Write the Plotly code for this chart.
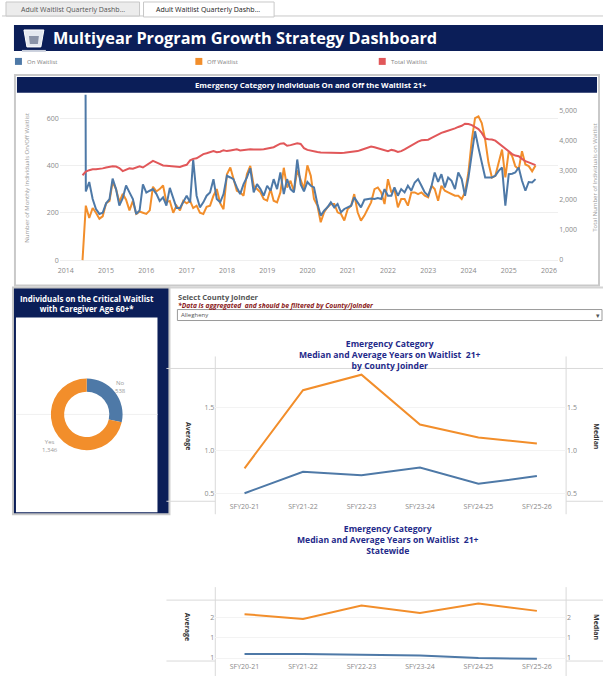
import pandas as pd
import plotly.graph_objects as go

W, H = 603, 677

# monthly series, Jun 2014 .. Sep 2025
months = pd.date_range("2014-06-01", "2025-09-01", freq="MS")

on_waitlist = [
    6000, 290, 330, 258, 216, 195, 200,
    240, 258, 344, 300, 230, 262, 315, 286, 258, 195, 210, 320,
    285, 293, 300, 280, 250, 265, 230, 305, 260, 220, 220, 245,
    272, 244, 425, 272, 223, 244, 272, 286, 342, 258, 244, 279,
    356, 349, 342, 307, 279, 321, 349, 388, 286, 321, 300, 272,
    314, 293, 342, 300, 370, 279, 342, 300, 286, 425, 320, 290,
    330, 314, 307, 237, 188, 209, 223, 244, 223, 237, 202, 216,
    223, 230, 265, 244, 223, 255, 258, 260, 258, 262, 258, 300,
    272, 272, 307, 272, 300, 286, 314, 293, 328, 342, 314, 286,
    272, 314, 370, 330, 363, 307, 349, 335, 300, 370, 342, 272,
    349, 440, 544, 474, 411, 349, 349, 349, 356, 377, 391, 230,
    363, 365, 370, 391, 335, 293, 330, 328, 342,
]

off_waitlist = [
    0, 230, 178, 220, 200, 175, 185,
    240, 250, 330, 300, 245, 280, 255, 210, 250, 195, 205, 200,
    195, 210, 310, 290, 300, 315, 245, 250, 200, 230, 210, 250,
    240, 250, 220, 230, 200, 195, 225, 230, 272, 300, 240, 215,
    363, 391, 342, 293, 286, 272, 363, 398, 314, 300, 286, 258,
    251, 300, 251, 244, 286, 390, 307, 335, 290, 380, 335, 300,
    400, 356, 258, 230, 160, 202, 223, 237, 237, 202, 195, 167,
    216, 230, 279, 202, 167, 188, 216, 244, 300, 307, 286, 237,
    342, 286, 300, 223, 258, 258, 230, 286, 286, 279, 286, 272,
    265, 314, 300, 251, 314, 293, 286, 279, 272, 272, 258, 286,
    370, 509, 600, 607, 579, 509, 411, 349, 356, 411, 467, 349,
    460, 439, 397, 384, 460, 404, 397, 375, 400,
]

total_waitlist = [
    2830, 2950, 3000, 3030, 3030, 3040, 3060,
    3090, 3110, 3130, 3120, 3070, 2970, 3020, 3060, 3050, 3080, 3130, 3090,
    3170, 3250, 3310, 3260, 3200, 3160, 3150, 3140, 3135, 3120, 3110, 3150,
    3180, 3330, 3380, 3400, 3480, 3540, 3570, 3600, 3640, 3600, 3620, 3670,
    3640, 3660, 3690, 3700, 3660, 3680, 3700, 3700, 3690, 3680, 3690, 3700,
    3720, 3740, 3770, 3830, 3890, 3900, 3820, 3840, 3870, 3900, 3880, 3740,
    3680, 3650, 3620, 3610, 3590, 3585, 3600, 3590, 3570, 3560, 3575, 3585,
    3600, 3610, 3615, 3640, 3675, 3720, 3765, 3790, 3770, 3740, 3710, 3690,
    3640, 3680, 3660, 3610, 3640, 3700, 3770, 3830, 3900, 3960, 4000, 4020,
    4020, 4080, 4140, 4200, 4250, 4290, 4320, 4350, 4400, 4450, 4490, 4560,
    4550, 4510, 4450, 4380, 4250, 4060, 4040, 4030, 3990, 3900, 3800, 3720,
    3610, 3540, 3490, 3470, 3380, 3300, 3260, 3220, 3170,
]

caregiver_labels = ["No", "Yes"]
caregiver_values = [538, 1346]

sfy = ["SFY20-21", "SFY21-22", "SFY22-23", "SFY23-24", "SFY24-25", "SFY25-26"]
county_average = [0.79, 1.70, 1.88, 1.30, 1.15, 1.08]
county_median = [0.50, 0.75, 0.71, 0.80, 0.61, 0.70]
state_average = [1.58, 1.46, 1.79, 1.61, 1.84, 1.66]
state_median = [0.60, 0.60, 0.58, 0.56, 0.50, 0.48]

BLUE, ORANGE, RED = "#4e79a7", "#f28e2b", "#e15759"
NAVY = "#0b1e58"
TITLE_BLUE = "#1f2a8a"
FONT = "Open Sans"


def px(x):
    return x / W


def py(y):
    return 1 - y / H


fig = go.Figure()

# top chart
fig.add_trace(go.Scatter(x=months, y=off_waitlist, mode="lines", line=dict(color=ORANGE, width=2),
                         xaxis="x", yaxis="y"))
fig.add_trace(go.Scatter(x=months, y=on_waitlist, mode="lines", line=dict(color=BLUE, width=2),
                         xaxis="x", yaxis="y"))
fig.add_trace(go.Scatter(x=months, y=total_waitlist, mode="lines", line=dict(color=RED, width=2),
                         xaxis="x", yaxis="y2"))

# donut
fig.add_trace(go.Pie(labels=caregiver_labels, values=caregiver_values, hole=0.63, sort=False,
                     direction="clockwise", rotation=0, textinfo="none",
                     marker=dict(colors=[BLUE, ORANGE], line=dict(width=0)),
                     domain=dict(x=[px(49), px(121)], y=[py(451), py(379)])))

# county chart
fig.add_trace(go.Scatter(x=sfy, y=county_average, mode="lines", line=dict(color=ORANGE, width=2),
                         xaxis="x2", yaxis="y3"))
fig.add_trace(go.Scatter(x=sfy, y=county_median, mode="lines", line=dict(color=BLUE, width=2),
                         xaxis="x2", yaxis="y4"))

# statewide chart
fig.add_trace(go.Scatter(x=sfy, y=state_average, mode="lines", line=dict(color=ORANGE, width=2),
                         xaxis="x3", yaxis="y5"))
fig.add_trace(go.Scatter(x=sfy, y=state_median, mode="lines", line=dict(color=BLUE, width=2),
                         xaxis="x3", yaxis="y6"))

tick_font = dict(family=FONT, size=7, color="#8a8a8a")

shapes = []


def rect(x0, y0, x1, y1, fill, line=None, lw=1):
    shapes.append(dict(type="rect", xref="paper", yref="paper",
                       x0=px(x0), x1=px(x1), y0=py(y1), y1=py(y0),
                       fillcolor=fill, line=dict(color=line or fill, width=lw if line else 0),
                       layer="below"))


def hline(x0, x1, y, color="#d9d9d9", lw=1):
    shapes.append(dict(type="line", xref="paper", yref="paper", x0=px(x0), x1=px(x1),
                       y0=py(y), y1=py(y), line=dict(color=color, width=lw), layer="below"))


def vline(x, y0, y1, color="#d9d9d9", lw=1):
    shapes.append(dict(type="line", xref="paper", yref="paper", x0=px(x), x1=px(x),
                       y0=py(y0), y1=py(y1), line=dict(color=color, width=lw), layer="below"))


# tabs
hline(0, 603, 16, "#c8c8c8")
rect(4, 2, 138, 16, "#ececec", "#c8c8c8")
rect(142, 2, 273, 17, "#ffffff", "#c8c8c8")

# header bar + logo
rect(12, 25, 603, 51, NAVY)
shapes.append(dict(type="path", xref="paper", yref="paper",
                   path=f"M {px(22)},{py(30)} L {px(42)},{py(30)} L {px(39)},{py(47)} L {px(25)},{py(47)} Z",
                   fillcolor="#e4e8f0", line=dict(color="#ffffff", width=1)))
shapes.append(dict(type="path", xref="paper", yref="paper",
                   path=f"M {px(27)},{py(36)} L {px(37)},{py(36)} L {px(36)},{py(44)} L {px(28)},{py(44)} Z",
                   fillcolor="#8a93a8", line=dict(width=0)))
hline(20, 44, 51, "#c9cfdc", 2)

# legend
rect(13, 58, 20, 65, BLUE)
rect(194, 58, 201, 65, ORANGE)
rect(378, 58, 385, 65, RED)

# top panel
rect(13, 75, 599, 286, "#ffffff", "#c9c9c9", 2)
rect(15, 77, 597, 93, NAVY)

# left panel
rect(11, 288, 168, 515, NAVY, "#c9c9c9", 2)
rect(14, 318, 156, 513, "#ffffff")
hline(14, 156, 415, "#f0f0f0")

# right side
hline(168, 603, 288, "#d4d4d4", 2)
rect(176, 310, 602, 321, "#ffffff", "#9a9a9a")

# county chart frame
hline(165, 603, 369)
vline(214, 357, 515)
vline(566, 357, 515)
hline(165, 214, 502)
hline(566, 603, 502)

# statewide chart frame
hline(165, 603, 601)
vline(214, 588, 677)
vline(566, 588, 677)
hline(165, 214, 662)
hline(566, 603, 662)

annotations = []


def text(x, y, s, size=7, color="#333", xanchor="center", angle=0, yanchor="middle"):
    annotations.append(dict(x=px(x), y=py(y), xref="paper", yref="paper", text=s, showarrow=False,
                            xanchor=xanchor, yanchor=yanchor, textangle=angle, borderpad=0,
                            font=dict(family=FONT, size=size, color=color)))


text(71, 9.5, "Adult Waitlist Quarterly Dashb...", 7, "#555")
text(207, 9.5, "Adult Waitlist Quarterly Dashb...", 7, "#222")
text(50, 38, "<b>Multiyear Program Growth Strategy Dashboard</b>", 16.3, "#ffffff", "left")
text(24, 62, "On Waitlist", 6, "#808080", "left")
text(205, 62, "Off Waitlist", 6, "#808080", "left")
text(389, 62, "Total Waitlist", 6, "#808080", "left")
text(310, 85, "<b>Emergency Category Individuals On and Off the Waitlist 21+</b>", 7.8, "#ffffff")
text(25, 178, "Number of Monthly Individuals On/Off Waitlist", 6, "#9a9a9a", angle=-90)
text(595, 178, "Total Number of Individuals on Waitlist", 6, "#9a9a9a", angle=-90)

text(85, 304, "<b>Individuals on the Critical Waitlist<br>with Caregiver Age 60+*</b>", 7.9, "#ffffff")
text(119, 388, "No<br>538", 6, "#9a9a9a")
text(48, 447, "Yes<br>1,346", 6, "#9a9a9a")

text(176, 297, "<b>Select County Joinder</b>", 7.5, "#555555", "left")
text(176, 305.5, "<b><i>*Data is aggregated  and should be filtered by County/Joinder</i></b>", 6.7, "#8b1a1a", "left")
text(179, 315.5, "Allegheny", 6, "#555555", "left")
text(598, 315.5, "▾", 7, "#555555")

text(389, 355.5, "<b>Emergency Category<br>Median and Average Years on Waitlist  21+<br>by County Joinder</b>",
     8.6, TITLE_BLUE)
text(187, 437, "<b>Average</b>", 7, "#333333", angle=90)
text(597, 437, "<b>Median</b>", 7, "#333333", angle=90)

text(387, 540.5, "<b>Emergency Category<br>Median and Average Years on Waitlist  21+<br>Statewide</b>",
     8.6, TITLE_BLUE)
text(187, 628, "<b>Average</b>", 7, "#333333", angle=90)
text(597, 628, "<b>Median</b>", 7, "#333333", angle=90)

common_y = dict(showline=False, zeroline=False, ticks="", tickfont=tick_font, fixedrange=True)

fig.update_layout(
    width=W, height=H, margin=dict(l=0, r=0, t=0, b=0), autosize=False,
    paper_bgcolor="#ffffff", plot_bgcolor="rgba(0,0,0,0)", showlegend=False,
    font=dict(family=FONT),
    shapes=shapes, annotations=annotations,
    xaxis=dict(domain=[px(58), px(558)], anchor="y", type="date",
               range=["2013-11-07", "2026-03-25"], dtick="M12", tick0="2014-01-01",
               tickformat="%Y", showgrid=False, showline=False, zeroline=False, ticks="",
               tickfont=tick_font),
    yaxis=dict(domain=[py(265), py(95)], anchor="x", range=[-19, 698], tickvals=[0, 200, 400, 600],
               showgrid=True, gridcolor="#efefef", **common_y),
    yaxis2=dict(overlaying="y", side="right", anchor="x", range=[-167, 5526],
                tickvals=[0, 1000, 2000, 3000, 4000, 5000], tickformat=",", showgrid=False, **common_y),
    xaxis2=dict(domain=[px(214), px(566)], anchor="y3", type="category", range=[-0.5, 5.5],
                showgrid=False, showline=False, zeroline=False, ticks="", tickfont=tick_font),
    yaxis3=dict(domain=[py(502), py(369)], anchor="x2", range=[0.407, 1.953],
                tickvals=[0.5, 1.0, 1.5], ticktext=["0.5", "1.0", "1.5"],
                showgrid=True, gridcolor="#f3f3f3", **common_y),
    yaxis4=dict(overlaying="y3", side="right", anchor="x2", range=[0.407, 1.953],
                tickvals=[0.5, 1.0, 1.5], ticktext=["0.5", "1.0", "1.5"], showgrid=False, **common_y),
    xaxis3=dict(domain=[px(214), px(566)], anchor="y5", type="category", range=[-0.5, 5.5],
                showgrid=False, showline=False, zeroline=False, ticks="", tickfont=tick_font),
    yaxis5=dict(domain=[py(662), py(601)], anchor="x3", range=[0.426, 1.925],
                tickvals=[0.5, 1.0, 1.5], ticktext=["1", "1", "2"],
                showgrid=True, gridcolor="#f3f3f3", **common_y),
    yaxis6=dict(overlaying="y5", side="right", anchor="x3", range=[0.426, 1.925],
                tickvals=[0.5, 1.0, 1.5], ticktext=["1", "1", "2"], showgrid=False, **common_y),
)

# the page's default body margin would push the figure 8px right and down
fig.write_html("out.html", config={"displayModeBar": False},
               post_script="document.body.style.margin='0';")
